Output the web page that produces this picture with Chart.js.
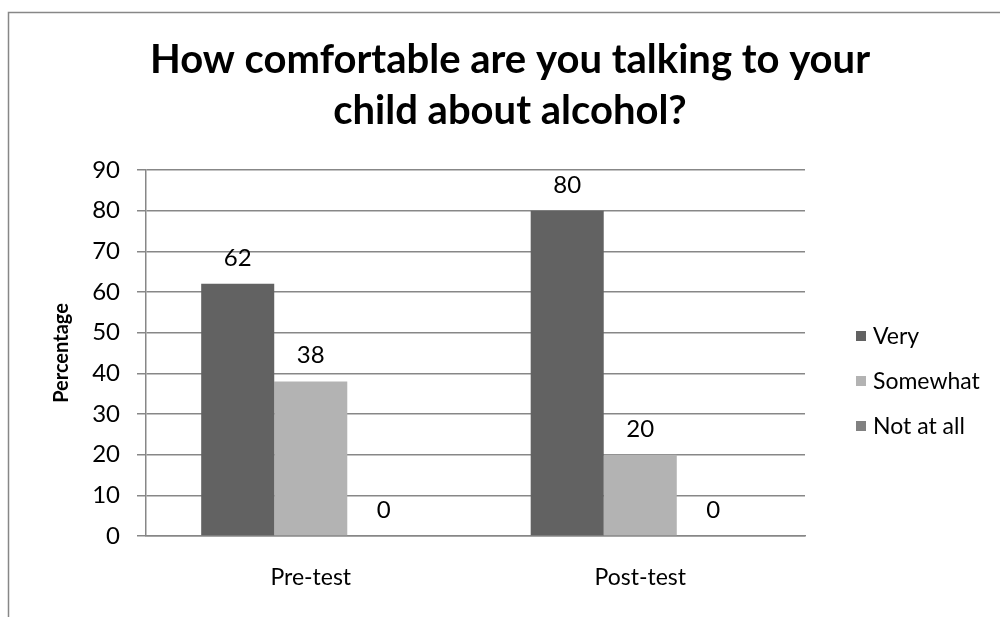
<!DOCTYPE html>
<html>
<head>
<meta charset="utf-8">
<title>Comfort talking about alcohol</title>
<script src="https://cdn.jsdelivr.net/npm/chart.js@4/dist/chart.umd.min.js"></script>
<style>
  html, body { margin: 0; padding: 0; background: #fff; }
  #wrap { width: 1000px; height: 617px; }
</style>
</head>
<body>
<div id="wrap"><canvas id="chart" width="1000" height="617"></canvas></div>
<script>
// Dados do gráfico
const titleLines = ['How comfortable are you talking to your', 'child about alcohol?'];
const categories = ['Pre-test', 'Post-test'];
const seriesNames = ['Very', 'Somewhat', 'Not at all'];
const veryValues = [62, 80];
const somewhatValues = [38, 20];
const notAtAllValues = [0, 0];
const seriesColors = ['#626262', '#b3b3b3', '#818181'];
const yMin = 0, yMax = 90, yStep = 10;

const FONT = 'Lato, "Open Sans", sans-serif';

// =======================================================
// Moldura, título, rótulos de valor e legenda
// =======================================================
const framePlugin = {
    id: 'frame',
    beforeDraw(chart) {
        const ctx = chart.ctx;
        ctx.save();
        ctx.strokeStyle = '#878787';
        ctx.lineWidth = 1.5;
        ctx.beginPath();
        ctx.moveTo(8.5, chart.height);
        ctx.lineTo(8.5, 12.5);
        ctx.lineTo(chart.width, 12.5);
        ctx.stroke();
        ctx.restore();
    },
    afterDatasetsDraw(chart) {
        const ctx = chart.ctx;
        ctx.save();
        ctx.font = `24px ${FONT}`;
        ctx.fillStyle = '#000';
        ctx.textAlign = 'center';
        ctx.textBaseline = 'alphabetic';
        chart.data.datasets.forEach((ds, i) => {
            chart.getDatasetMeta(i).data.forEach((bar, j) => {
                ctx.fillText(String(ds.data[j]), bar.x, bar.y - 18);
            });
        });
        ctx.restore();
    },
    afterDraw(chart) {
        const ctx = chart.ctx;
        ctx.save();
        // título
        ctx.font = `bold 40px ${FONT}`;
        ctx.fillStyle = '#000';
        ctx.textAlign = 'center';
        ctx.textBaseline = 'alphabetic';
        titleLines.forEach((line, i) => ctx.fillText(line, 510, 73 + i * 51));

        // legenda
        ctx.font = `23px ${FONT}`;
        ctx.textAlign = 'left';
        ctx.textBaseline = 'middle';
        chart.data.datasets.forEach((ds, i) => {
            const cy = 336 + i * 45;
            ctx.fillStyle = ds.backgroundColor;
            ctx.fillRect(856, cy - 5, 10, 10);
            ctx.fillStyle = '#000';
            ctx.fillText(ds.label, 873, cy + 1);
        });
        ctx.restore();
    }
};

new Chart(document.getElementById('chart'), {
    type: 'bar',
    data: {
        labels: categories,
        datasets: [
            { label: seriesNames[0], data: veryValues, backgroundColor: seriesColors[0] },
            { label: seriesNames[1], data: somewhatValues, backgroundColor: seriesColors[1] },
            { label: seriesNames[2], data: notAtAllValues, backgroundColor: seriesColors[2] }
        ]
    },
    options: {
        responsive: false,
        animation: false,
        devicePixelRatio: 1,
        layout: { padding: { left: 10, top: 170, right: 195, bottom: 0 } },
        datasets: { bar: { categoryPercentage: 0.665, barPercentage: 1 } },
        scales: {
            x: {
                grid: { display: false, drawTicks: false },
                border: { display: true, color: '#878787', width: 1.5 },
                ticks: { color: '#000', font: { family: FONT, size: 23 }, padding: 28 },
                afterFit(scale) { scale.height = 81; }
            },
            y: {
                min: yMin,
                max: yMax,
                ticks: { stepSize: yStep, color: '#000', font: { family: FONT, size: 24 }, padding: 17 },
                grid: { color: '#878787', lineWidth: 1.5, tickLength: 9 },
                border: { display: true, color: '#878787', width: 1.5 },
                title: {
                    display: true,
                    text: 'Percentage',
                    color: '#000',
                    font: { family: FONT, size: 20, weight: 'bold' },
                    padding: { top: 40, bottom: 0 }
                },
                afterFit(scale) { scale.width = 136; }
            }
        },
        plugins: {
            legend: { display: false },
            title: { display: false },
            tooltip: { enabled: false }
        }
    },
    plugins: [framePlugin]
});
</script>
</body>
</html>
